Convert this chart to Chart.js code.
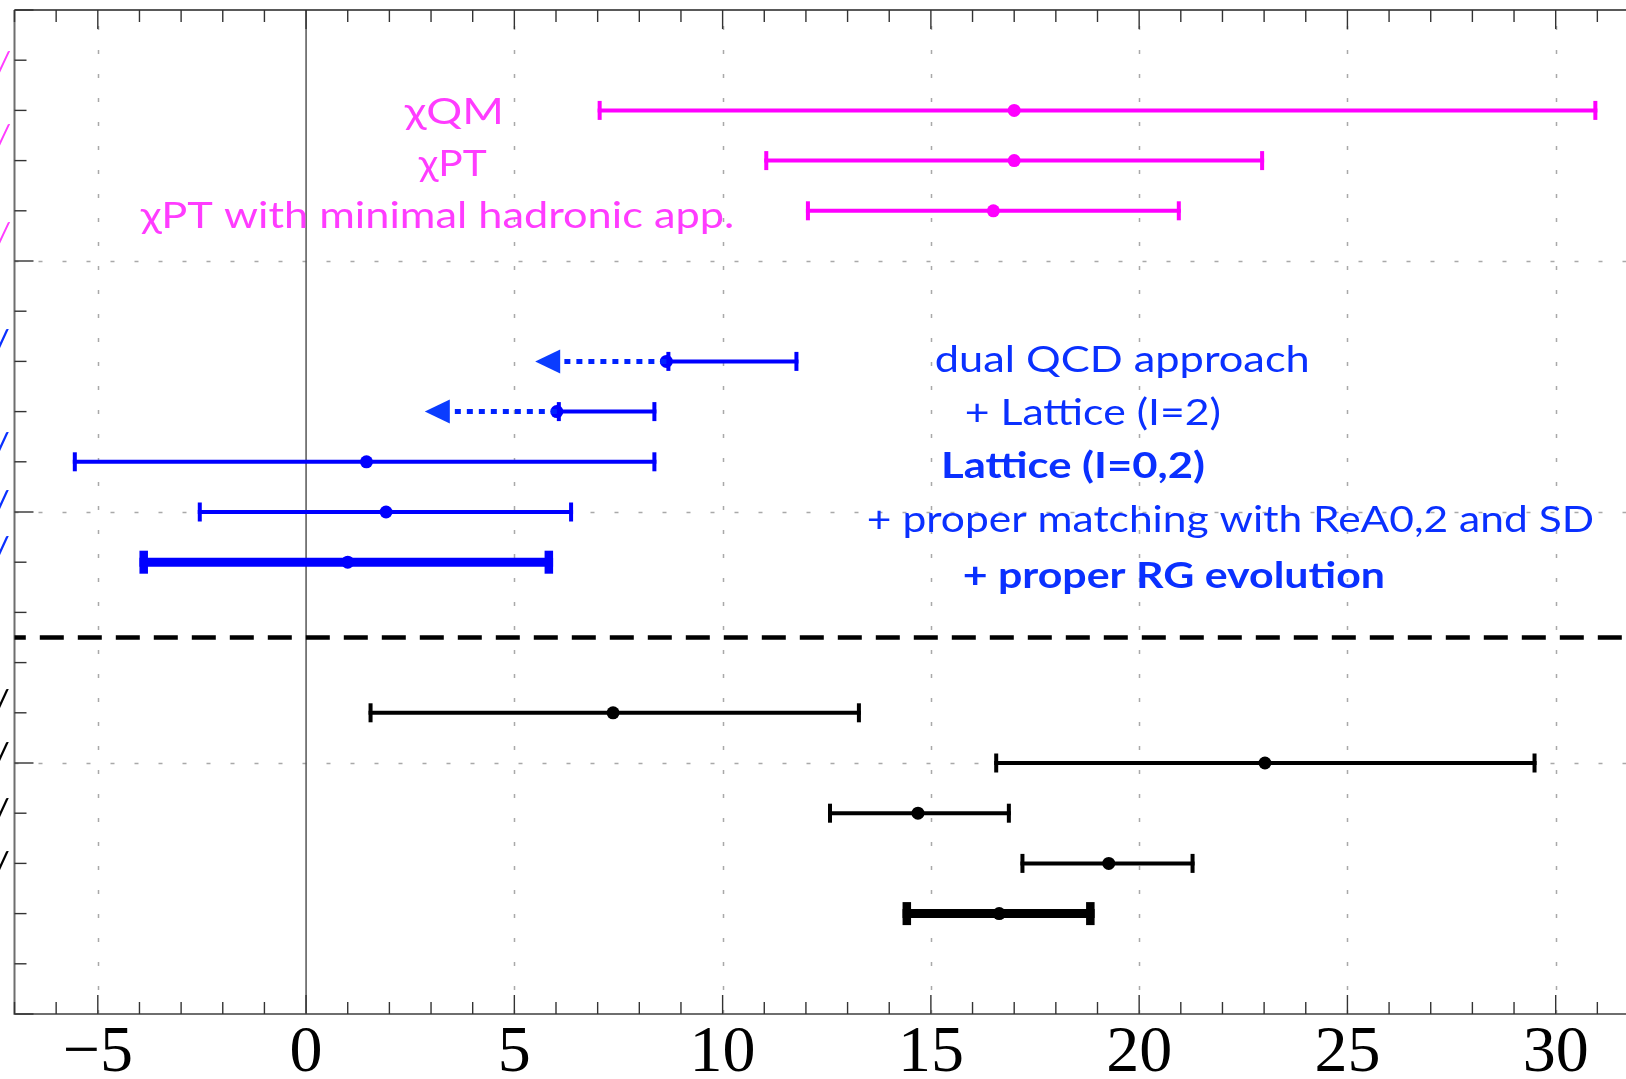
<!DOCTYPE html>
<html><head><meta charset="utf-8">
<script src="https://cdn.jsdelivr.net/npm/chart.js@4.4.1/dist/chart.umd.min.js"></script>
<style>
html,body{margin:0;padding:0;background:#fff;overflow:hidden;}
#wrap{position:relative;width:1626px;height:1079px;overflow:hidden;}
</style></head><body>
<div id="wrap"><canvas id="c" width="1650" height="1093"></canvas></div>
<script>
// ---------------- data ----------------
const X_MIN = -7, X_MAX = 32, Y_MIN = 0, Y_MAX = 20;
const xTickValues = [-5, 0, 5, 10, 15, 20, 25, 30];
const xGridValues = [-5, 5, 10, 15, 20, 25, 30];
const yGridValues = [5, 10, 15];
const separatorY = 7.5;

// one entry per error bar (row on the y scale)
const rowY     = [18, 17, 16, 13, 12, 11, 10, 9, 6, 5, 4, 3, 2];
const centers  = [17.0, 17.0, 16.5, 8.65, 6.02, 1.45, 1.92, 1.0, 7.37, 23.02, 14.69, 19.27, 16.64];
const lows     = [7.0, 11.0, 12.0, 8.65, 6.02, -5.6, -2.6, -4.0, 1.5, 16.52, 12.53, 17.15, 14.32];
const highs    = [31.0, 23.0, 21.0, 11.82, 8.41, 8.41, 6.41, 5.93, 13.32, 29.54, 16.92, 21.33, 18.93];
const arrowTo  = [null, null, null, 5.5, 2.85, null, null, null, null, null, null, null, null];
const rowGroup = ['m', 'm', 'm', 'b', 'b', 'b', 'b', 'b', 'k', 'k', 'k', 'k', 'k'];
const rowThick = [false, false, false, false, false, false, false, true, false, false, false, false, true];

// text annotations (data-space anchor: left/right ink extent and baseline)
const annoText  = ['χQM', 'χPT', 'χPT with minimal hadronic app.', 'dual QCD approach', '+ Lattice (I=2)', 'Lattice (I=0,2)', '+ proper matching with ReA0,2 and SD', '+ proper RG evolution'];
const annoX0    = [2.34, 2.68, -4.0, 15.12, 15.84, 15.30, 13.49, 15.79];
const annoX1    = [4.65, 4.34, 10.23, 24.05, 21.94, 21.55, 30.89, 25.85];
const annoBase  = [17.73, 16.69, 15.65, 12.79, 11.74, 10.67, 9.61, 8.48];
const annoGroup = ['m', 'm', 'm', 'b', 'b', 'b', 'b', 'b'];
const annoBold  = [false, false, false, false, false, true, false, true];

// clipped label fragments at the left edge
const fragY     = [18.94, 17.49, 15.54, 13.44, 11.38, 10.23, 9.32, 6.26, 5.20, 4.10, 3.03];
const fragGroup = ['m', 'm', 'm', 'b', 'b', 'b', 'b', 'k', 'k', 'k', 'k'];

// ---------------- styles ----------------
const COLORS = { m: '#ff00ff', b: '#0000ff', k: '#000000' };
const TEXT_COLORS = { m: '#ff3cff', b: '#0a30ff', k: '#000000' };

const barDatasets = rowY.map((y, i) => ({
  data: [{ x: lows[i], y: y }, { x: highs[i], y: y }],
  showLine: true,
  borderColor: COLORS[rowGroup[i]],
  borderWidth: rowThick[i] ? 9 : 4,
  borderCapStyle: 'butt',
  pointRadius: 0,
  pointHoverRadius: 0
}));
const pointDataset = {
  data: rowY.map((y, i) => ({ x: centers[i], y: y })),
  showLine: false,
  pointRadius: 6.5,
  pointBorderWidth: 0,
  pointBackgroundColor: rowY.map((_, i) => COLORS[rowGroup[i]])
};

const framePlugin = {
  id: 'frame',
  beforeDatasetsDraw(chart) {
    const { ctx, chartArea: a, scales: { x, y } } = chart;
    ctx.save();
    // gridlines
    ctx.strokeStyle = '#a9a9a9'; ctx.lineWidth = 1.5; ctx.setLineDash([4, 20]);
    xGridValues.forEach(v => {
      const px = Math.round(x.getPixelForValue(v)) + 0.5;
      ctx.lineDashOffset = 0;
      ctx.beginPath(); ctx.moveTo(px, a.bottom); ctx.lineTo(px, a.top); ctx.stroke();
    });
    yGridValues.forEach(v => {
      const py = Math.round(y.getPixelForValue(v)) + 0.5;
      ctx.beginPath(); ctx.moveTo(a.left, py); ctx.lineTo(a.right, py); ctx.stroke();
    });
    ctx.setLineDash([]);
    // zero line
    ctx.strokeStyle = '#555'; ctx.lineWidth = 1.5;
    const p0 = x.getPixelForValue(0);
    ctx.beginPath(); ctx.moveTo(p0, a.top); ctx.lineTo(p0, a.bottom); ctx.stroke();
    // axes
    ctx.strokeStyle = '#222'; ctx.lineWidth = 1.5;
    ctx.beginPath(); ctx.moveTo(a.left, a.top); ctx.lineTo(a.right, a.top); ctx.stroke();
    ctx.strokeStyle = '#6e6e6e'; ctx.lineWidth = 2;
    ctx.beginPath(); ctx.moveTo(a.left, a.top); ctx.lineTo(a.left, a.bottom); ctx.lineTo(a.right, a.bottom); ctx.stroke();
    // ticks
    ctx.strokeStyle = '#333'; ctx.lineWidth = 1.4;
    for (let v = Math.ceil(X_MIN); v <= X_MAX; v++) {
      const px = x.getPixelForValue(v);
      const L = (v % 5 === 0) ? 19 : 12;
      ctx.beginPath(); ctx.moveTo(px, a.bottom); ctx.lineTo(px, a.bottom - L); ctx.stroke();
      ctx.beginPath(); ctx.moveTo(px, a.top); ctx.lineTo(px, a.top + L); ctx.stroke();
    }
    for (let v = Y_MIN; v <= Y_MAX; v++) {
      const py = y.getPixelForValue(v);
      const L = (v % 5 === 0) ? 19 : 12;
      ctx.beginPath(); ctx.moveTo(a.left, py); ctx.lineTo(a.left + L, py); ctx.stroke();
    }
    // separator
    const ps = y.getPixelForValue(separatorY);
    ctx.strokeStyle = '#000'; ctx.lineWidth = 4.5; ctx.setLineDash([24, 14]); ctx.lineDashOffset = 12.7;
    ctx.beginPath(); ctx.moveTo(a.left, ps); ctx.lineTo(a.right, ps); ctx.stroke();
    ctx.restore();
  },
  afterDatasetsDraw(chart) {
    const { ctx, chartArea: a, scales: { x, y } } = chart;
    ctx.save();
    // caps
    rowY.forEach((v, i) => {
      const py = y.getPixelForValue(v);
      const w = rowThick[i] ? 8.5 : 4;
      const h = rowThick[i] ? 23 : 19;
      ctx.fillStyle = COLORS[rowGroup[i]];
      [lows[i], highs[i]].forEach((xv, j) => {
        const px = x.getPixelForValue(xv);
        const left = j === 0 ? px : px - w;
        ctx.fillRect(left, py - h / 2, w, h);
      });
    });
    // dotted arrows to upper limits
    rowY.forEach((v, i) => {
      if (arrowTo[i] === null) return;
      const py = y.getPixelForValue(v);
      const pc = x.getPixelForValue(centers[i]);
      const pt = x.getPixelForValue(arrowTo[i]);
      const len = 25, hh = 12;
      ctx.strokeStyle = '#0022ff'; ctx.lineWidth = 5; ctx.setLineDash([6, 6]); ctx.lineDashOffset = 0;
      ctx.beginPath(); ctx.moveTo(pc, py); ctx.lineTo(pt + len, py); ctx.stroke();
      ctx.setLineDash([]);
      ctx.fillStyle = '#0a3cff';
      ctx.beginPath(); ctx.moveTo(pt, py); ctx.lineTo(pt + len, py - hh); ctx.lineTo(pt + len, py + hh); ctx.closePath(); ctx.fill();
    });
    // annotations
    annoText.forEach((t, i) => {
      ctx.save();
      ctx.font = (annoBold[i] ? 'bold ' : '') + '37px Lato, "Open Sans", sans-serif';
      ctx.fillStyle = TEXT_COLORS[annoGroup[i]];
      ctx.textAlign = 'left'; ctx.textBaseline = 'alphabetic';
      const m = ctx.measureText(t);
      const w = m.actualBoundingBoxLeft + m.actualBoundingBoxRight;
      const x0 = x.getPixelForValue(annoX0[i]), x1 = x.getPixelForValue(annoX1[i]);
      const s = (x1 - x0) / w;
      ctx.translate(x0 + m.actualBoundingBoxLeft * s, y.getPixelForValue(annoBase[i]));
      ctx.scale(s, 1);
      ctx.fillText(t, 0, 0);
      ctx.restore();
    });
    ctx.restore();
    // fragments outside the frame
    ctx.save();
    ctx.textAlign = 'left'; ctx.textBaseline = 'middle';
    fragY.forEach((v, i) => {
      ctx.font = (fragGroup[i] === 'm' ? 'italic 30px' : 'italic bold 26px') + ' Lato, sans-serif';
      ctx.fillStyle = TEXT_COLORS[fragGroup[i]];
      ctx.fillText('/', -3, y.getPixelForValue(v));
    });
    ctx.restore();
  }
};

new Chart(document.getElementById('c'), {
  type: 'scatter',
  data: { datasets: [...barDatasets, pointDataset] },
  options: {
    responsive: false,
    animation: false,
    devicePixelRatio: 1,
    layout: { padding: { left: 14.5, top: 10, right: 11, bottom: 0 } },
    plugins: { legend: { display: false }, tooltip: { enabled: false } },
    scales: {
      x: {
        type: 'linear', min: X_MIN, max: X_MAX,
        grid: { display: false, drawTicks: false },
        border: { display: false },
        afterBuildTicks: s => { s.ticks = xTickValues.map(v => ({ value: v })); },
        ticks: {
          autoSkip: false, maxRotation: 0, padding: 0, color: '#000',
          font: { family: '"Liberation Serif", "DejaVu Serif", serif', size: 66, lineHeight: 1.197 },
          callback: v => (v < 0 ? '\u2212' + Math.abs(v) : String(v))
        }
      },
      y: { type: 'linear', min: Y_MIN, max: Y_MAX, display: false }
    }
  },
  plugins: [framePlugin]
});
</script>
</body></html>
